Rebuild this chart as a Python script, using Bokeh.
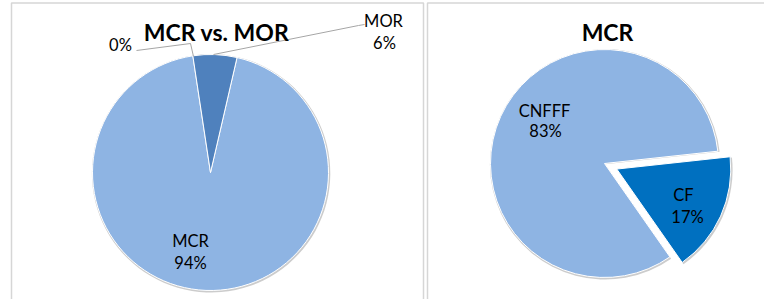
import numpy as np
from bokeh.plotting import figure
from bokeh.models import Range1d
from bokeh.core.properties import value
from bokeh.embed import file_html
from bokeh.resources import INLINE

# ---- data ----
left_title = "MCR vs. MOR"
left_labels = ["MCR", "", "MOR"]
left_values = [94, 0, 6]
left_colors = ["#8EB4E3", "#8EB4E3", "#4F81BD"]

right_title = "MCR"
right_labels = ["CNFFF", "CF"]
right_values = [83, 17]
right_colors = ["#8EB4E3", "#0070C0"]

# ---- layout (screen pixel coords of the page) ----
W, H = 764, 299
def sy(y):
    return H - y

FONT = "Lato"

p = figure(width=W, height=H, output_backend="svg", toolbar_location=None,
           x_range=Range1d(0, W), y_range=Range1d(0, H), min_border=0)
p.axis.visible = False
p.grid.visible = False
p.outline_line_color = None
p.background_fill_color = "white"
p.border_fill_color = "white"

# chart borders
p.line([11, 11, 423, 423], [sy(320), sy(2.5), sy(2.5), sy(320)], line_color="#D6D6D6", line_width=1.5)
p.line([427, 427, 790], [sy(320), sy(2.5), sy(2.5)], line_color="#D6D6D6", line_width=1.5)


def draw_pie(cx, cy, r, vals, colors, first_angle, explode=None):
    vals = np.array(vals, dtype=float)
    frac = vals / vals.sum()
    cum = np.concatenate([[0], np.cumsum(frac)]) * 360.0 + first_angle
    out = []
    for i in range(len(vals)):
        a1, a2 = cum[i], cum[i + 1]
        if a2 - a1 <= 0:
            out.append(None)
            continue
        mid = np.radians((a1 + a2) / 2)
        d = explode[i] if explode else 0
        ox = cx + d * np.sin(mid)
        oy = sy(cy) + d * np.cos(mid)
        # shadow/edge
        p.wedge(x=ox + 0.6, y=oy - 0.8, radius=r + 1.2,
                start_angle=np.radians(90 - a2), end_angle=np.radians(90 - a1),
                fill_color="#BFBFBF", line_color=None, fill_alpha=0.8)
        out.append((ox, oy, a1, a2))
    for i, item in enumerate(out):
        if item is None:
            continue
        ox, oy, a1, a2 = item
        p.wedge(x=ox, y=oy, radius=r,
                start_angle=np.radians(90 - a2), end_angle=np.radians(90 - a1),
                fill_color=colors[i], line_color="white", line_width=1)


draw_pie(210, 172, 118, left_values, left_colors, 13)
draw_pie(604, 163, 114, right_values, right_colors, 145, explode=[0, 13.5])

# leader lines
p.line([136, 190, 193], [sy(50), sy(43), sy(56)], line_color="#A6A6A6", line_width=1)
p.line([364, 358, 213], [sy(24), sy(25), sy(54)], line_color="#A6A6A6", line_width=1)

# titles
p.text(x=[216, 607], y=[sy(31), sy(31)], text=[left_title, right_title],
       text_font=value(FONT), text_font_style="bold", text_font_size="23px",
       text_align="center", text_baseline="middle", text_color="black")

def pct(vals):
    t = float(sum(vals))
    return [f"{round(v / t * 100)}%" for v in vals]

# data labels: (name pos, pct pos) per slice
lp = pct(left_values)
rp = pct(right_values)
name_x = [190, 383, 544, 683]
name_y = [240, 20, 110, 194]
pct_x = [190, 120, 384, 545, 687]
pct_y = [262, 44, 42, 130, 216]
names = [left_labels[0], left_labels[2], right_labels[0], right_labels[1]]
pcts = [lp[0], lp[1], lp[2], rp[0], rp[1]]

p.text(x=name_x, y=[sy(v) for v in name_y], text=names,
       text_font=value(FONT), text_font_size="16.5px",
       text_align="center", text_baseline="middle", text_color="black")
p.text(x=pct_x, y=[sy(v) for v in pct_y], text=pcts,
       text_font=value(FONT), text_font_size="16.5px",
       text_align="center", text_baseline="middle", text_color="black")

open("out.html", "w").write(file_html(p, INLINE))
